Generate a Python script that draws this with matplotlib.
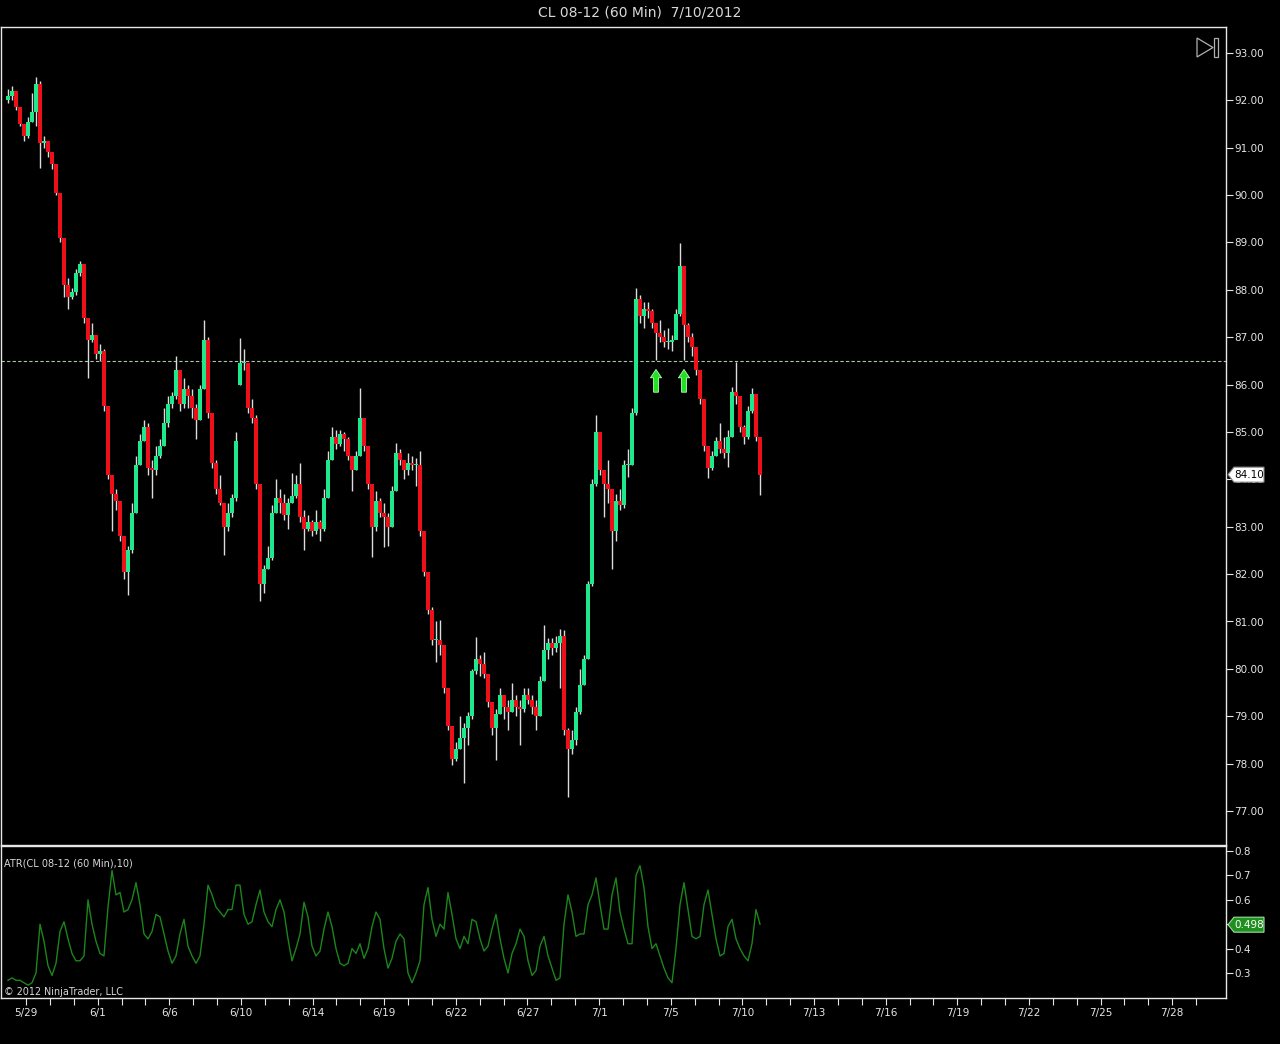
import matplotlib
matplotlib.use('Agg')
import matplotlib.pyplot as plt
import numpy as np
from matplotlib.patches import Polygon, Rectangle
from matplotlib.transforms import IdentityTransform, blended_transform_factory

# CL 08-12 price bars (one value every ~4 px)
first_open = 92.00
closes = [
    92.10, 92.20, 91.85, 91.50, 91.25, 91.55, 91.75, 92.35, 91.10, 91.15,
    90.90, 90.65, 90.05, 89.10, 88.10, 87.85, 87.95, 88.35, 88.55, 87.40,
    86.95, 87.05, 86.65, 86.70, 85.55, 84.10, 83.70, 83.55, 82.80, 82.05,
    82.50, 83.30, 84.30, 84.80, 85.10, 84.25, 84.20, 84.50, 84.70, 85.20,
    85.60, 85.75, 86.30, 85.60, 85.90, 85.75, 85.50, 85.25, 85.90, 86.95,
    85.40, 84.35, 83.80, 83.50, 83.00, 83.30, 83.60, 84.80, 86.45, 86.45,
    85.50, 85.30, 83.90, 81.80, 82.10, 82.35, 83.30, 83.60, 83.50, 83.25,
    83.50, 83.65, 83.90, 83.20, 82.95, 83.10, 82.90, 83.10, 82.95, 83.60,
    84.40, 84.90, 84.75, 84.95, 84.85, 84.50, 84.20, 84.50, 85.30, 84.70,
    83.90, 83.00, 83.55, 83.30, 83.20, 83.00, 83.75, 84.55, 84.40, 84.20,
    84.35, 84.30, 84.30, 82.90, 82.05, 81.25, 80.60, 80.60, 80.50, 79.60,
    78.80, 78.10, 78.30, 78.55, 78.75, 79.00, 79.95, 80.20, 80.10, 79.90,
    79.30, 78.75, 79.05, 79.45, 79.20, 79.10, 79.35, 79.20, 79.15, 79.45,
    79.35, 79.20, 79.00, 79.75, 80.40, 80.55, 80.45, 80.55, 80.70, 78.70,
    78.30, 78.50, 79.10, 79.65, 80.20, 81.80, 83.90, 85.00, 84.20, 83.90,
    83.80, 82.90, 83.55, 83.45, 84.30, 84.30, 85.40, 87.80, 87.45, 87.60,
    87.55, 87.30, 87.10, 87.00, 86.90, 86.90, 86.95, 87.50, 88.50, 87.25,
    87.00, 86.80, 86.30, 85.70, 84.70, 84.25, 84.50, 84.80, 84.65, 84.55,
    84.90, 85.85, 85.75, 85.10, 84.90, 85.45, 85.80, 84.90, 84.10,
]
highs = [
    92.25, 92.30, 92.20, 91.85, 91.50, 91.65, 92.15, 92.50, 92.40, 91.25,
    91.15, 90.90, 90.65, 90.05, 89.10, 88.25, 88.05, 88.45, 88.62, 88.55,
    87.40, 87.30, 87.05, 86.85, 86.75, 85.55, 84.10, 83.80, 83.55, 82.80,
    82.60, 83.50, 84.50, 84.95, 85.25, 85.20, 84.40, 84.70, 84.85, 85.50,
    85.75, 85.85, 86.60, 86.30, 86.15, 86.00, 85.90, 85.60, 86.00, 87.37,
    87.00, 85.40, 84.40, 84.10, 83.50, 83.50, 83.70, 85.00, 86.98, 86.75,
    86.45, 85.70, 85.35, 83.90, 82.20, 82.60, 83.45, 84.00, 83.80, 83.70,
    83.60, 84.13, 84.10, 84.35, 83.35, 83.25, 83.15, 83.35, 83.15, 83.80,
    84.60, 85.10, 85.05, 85.05, 85.00, 84.90, 84.45, 84.60, 85.93, 85.25,
    84.70, 83.90, 83.75, 83.60, 83.50, 83.30, 83.85, 84.77, 84.65, 84.40,
    84.55, 84.50, 84.45, 84.60, 82.90, 82.05, 81.30, 81.00, 81.03, 80.50,
    79.60, 78.80, 78.45, 79.00, 78.85, 79.10, 80.00, 80.67, 80.30, 80.35,
    79.90, 79.30, 79.15, 79.60, 79.45, 79.35, 79.70, 79.45, 79.35, 79.60,
    79.60, 79.45, 79.35, 79.85, 80.93, 80.65, 80.65, 80.70, 80.85, 80.82,
    78.75, 78.70, 79.20, 80.00, 80.30, 81.85, 84.00, 85.36, 85.00, 84.20,
    84.40, 83.80, 83.70, 83.80, 84.40, 84.65, 85.50, 88.04, 87.90, 87.75,
    87.75, 87.60, 87.30, 87.36, 87.15, 87.20, 87.05, 87.60, 88.99, 88.50,
    87.30, 87.10, 86.80, 86.30, 85.70, 84.70, 84.60, 84.90, 85.19, 84.90,
    85.05, 85.95, 86.48, 85.75, 85.15, 85.55, 85.93, 85.80, 84.90,
]
lows = [
    91.95, 92.00, 91.80, 91.45, 91.15, 91.20, 91.55, 91.45, 90.57, 91.00,
    90.80, 90.55, 90.00, 89.00, 87.85, 87.60, 87.80, 87.90, 88.30, 87.30,
    86.15, 86.90, 86.55, 86.50, 85.45, 84.00, 82.90, 83.35, 82.70, 81.90,
    81.55, 82.45, 83.30, 84.30, 84.80, 84.10, 83.60, 84.10, 84.45, 84.70,
    85.10, 85.50, 85.70, 85.45, 85.50, 85.50, 85.30, 84.85, 85.25, 85.90,
    85.30, 84.25, 83.70, 83.45, 82.40, 82.90, 83.20, 83.55, 86.00, 86.30,
    85.40, 85.20, 83.80, 81.43, 81.60, 82.10, 82.30, 83.30, 83.30, 83.15,
    82.95, 83.50, 83.60, 83.10, 82.50, 82.90, 82.80, 82.85, 82.70, 82.90,
    83.60, 84.40, 84.65, 84.70, 84.60, 84.40, 83.75, 84.20, 84.50, 84.60,
    83.80, 82.36, 82.90, 83.20, 82.57, 82.60, 83.00, 83.75, 84.30, 84.00,
    84.10, 84.20, 83.85, 82.80, 81.95, 81.15, 80.50, 80.15, 80.30, 79.50,
    78.70, 77.97, 78.05, 78.30, 77.60, 78.40, 78.95, 79.90, 79.85, 79.80,
    79.20, 78.60, 78.08, 79.05, 78.95, 78.70, 79.10, 79.00, 78.40, 79.10,
    79.25, 79.05, 78.70, 79.00, 79.75, 80.20, 80.30, 80.35, 79.60, 78.60,
    77.30, 78.20, 78.40, 79.05, 79.65, 80.20, 81.75, 83.85, 84.10, 83.20,
    83.50, 82.10, 82.70, 83.35, 83.40, 84.05, 84.30, 85.35, 87.30, 87.20,
    87.40, 87.20, 86.52, 86.90, 86.80, 86.75, 86.70, 87.05, 87.45, 86.52,
    86.90, 86.60, 86.20, 85.60, 84.60, 84.03, 84.20, 84.50, 84.55, 84.45,
    84.26, 84.90, 85.60, 85.00, 84.75, 84.85, 85.40, 84.80, 83.67,
]
# weekend gap (Sunday 6/10 session open)
gap_bar = 58
gap_open = 86.00

# ATR(10), same bars
atr = [
    0.27, 0.28, 0.27, 0.27, 0.26, 0.25, 0.26, 0.30, 0.50, 0.43,
    0.33, 0.29, 0.34, 0.47, 0.51, 0.44, 0.38, 0.35, 0.35, 0.37,
    0.60, 0.50, 0.43, 0.38, 0.37, 0.57, 0.72, 0.62, 0.63, 0.55,
    0.56, 0.60, 0.67, 0.58, 0.46, 0.44, 0.47, 0.54, 0.53, 0.46,
    0.39, 0.34, 0.37, 0.46, 0.52, 0.41, 0.37, 0.34, 0.37, 0.50,
    0.66, 0.62, 0.57, 0.55, 0.53, 0.56, 0.56, 0.66, 0.66, 0.54,
    0.50, 0.51, 0.58, 0.64, 0.55, 0.51, 0.49, 0.56, 0.60, 0.55,
    0.44, 0.35, 0.40, 0.46, 0.59, 0.53, 0.41, 0.37, 0.39, 0.48,
    0.55, 0.49, 0.40, 0.34, 0.33, 0.34, 0.40, 0.38, 0.42, 0.36,
    0.40, 0.49, 0.55, 0.52, 0.40, 0.32, 0.36, 0.43, 0.46, 0.44,
    0.30, 0.26, 0.30, 0.35, 0.58, 0.65, 0.52, 0.45, 0.50, 0.48,
    0.63, 0.54, 0.44, 0.40, 0.45, 0.42, 0.52, 0.51, 0.44, 0.39,
    0.41, 0.48, 0.54, 0.44, 0.36, 0.30, 0.38, 0.42, 0.48, 0.45,
    0.35, 0.29, 0.31, 0.41, 0.45, 0.37, 0.32, 0.27, 0.28, 0.50,
    0.62, 0.55, 0.45, 0.46, 0.46, 0.58, 0.62, 0.69, 0.58, 0.48,
    0.48, 0.62, 0.69, 0.55, 0.48, 0.42, 0.42, 0.70, 0.74, 0.65,
    0.49, 0.40, 0.42, 0.37, 0.32, 0.28, 0.26, 0.40, 0.58, 0.67,
    0.56, 0.45, 0.44, 0.45, 0.58, 0.64, 0.54, 0.44, 0.37, 0.38,
    0.49, 0.52, 0.44, 0.40, 0.37, 0.35, 0.42, 0.56, 0.50,
]

signal_bars = [162, 169]
ref_level = 86.50
last_price = 84.10
last_atr = 0.498
date_labels = ['5/29', '6/1', '6/6', '6/10', '6/14', '6/19', '6/22', '6/27', '7/1',
               '7/5', '7/10', '7/13', '7/16', '7/19', '7/22', '7/25', '7/28']

FG = '#e6e6e6'
W, H = 1280, 1044

opens = [first_open] + closes[:-1]
opens[gap_bar] = gap_open
opens = np.array(opens)
closes_a = np.array(closes)
x = np.arange(len(closes))

fig = plt.figure(figsize=(W / 100, H / 100), dpi=100, facecolor='black')
ax = fig.add_axes([1 / W, 1 - 845 / H, 1225 / W, (845 - 27) / H], facecolor='black')
ax2 = fig.add_axes([1 / W, 1 - 998 / H, 1225 / W, (998 - 846) / H], facecolor='black', sharex=ax)

# Candles
ax.vlines(x, lows, highs, color='#dcdcdc', lw=1.0, zorder=2)
up = closes_a >= opens
colors = np.where(up, '#1fe88c', '#ee1018')
bottom = np.minimum(opens, closes_a)
height = np.maximum(np.abs(closes_a - opens), 0.03)
ax.bar(x, height, bottom=bottom, width=0.9, color=colors, linewidth=0, zorder=3)

ax.axhline(ref_level, color='#a8c8a8', lw=0.8, ls=(0, (3, 2)), zorder=1)

for b in signal_bars:
    ax.annotate('', xy=(b, lows[b] - 0.2), xytext=(b, lows[b] - 0.68),
                arrowprops=dict(arrowstyle='simple,head_width=0.8,head_length=0.6,tail_width=0.35',
                                fc='#22e022', ec='#b8ffb8', lw=0.6, mutation_scale=10,
                                shrinkA=0, shrinkB=0))

ax.set_xlim(-1.75, 304.5)
ax.set_ylim(93 - (845 - 53) / 47.375, 93 + 26 / 47.375)
ax.yaxis.tick_right()
ax.set_yticks(np.arange(77, 94))
ax.set_yticklabels([f'{v:.2f}' for v in range(77, 94)])
ax.tick_params(axis='y', direction='out', length=5, width=0.8, color=FG,
               labelcolor=FG, labelsize=7.5, pad=1)
ax.tick_params(axis='x', bottom=False, labelbottom=False)

# ATR panel
ax2.plot(x, atr, color='#1c861c', lw=1.0)
ax2.set_ylim(0.8 - 147 / 244, 0.8 + 5 / 244)
ax2.yaxis.tick_right()
atr_ticks = [0.3, 0.4, 0.5, 0.6, 0.7, 0.8]
ax2.set_yticks(atr_ticks)
# the 0.5 label sits under the last-value tag
ax2.set_yticklabels(['' if v == 0.5 else f'{v:.1f}' for v in atr_ticks])
ax2.tick_params(axis='y', direction='out', length=5, width=0.8, color=FG,
                labelcolor=FG, labelsize=7.5, pad=1)

# Date axis: one tick per session, label every third
bars_per_day = 5.97
first_day = 4.5
day_ticks = [first_day + bars_per_day * k for k in range(50)]
ax2.set_xticks(day_ticks[::3])
ax2.set_xticklabels(date_labels)
ax2.set_xticks(day_ticks, minor=True)
ax2.tick_params(axis='x', which='both', direction='out', length=5, width=0.8,
                color=FG, labelcolor=FG, labelsize=7.5, pad=2)

for a in (ax, ax2):
    for s in a.spines.values():
        s.set_color(FG)
        s.set_linewidth(1.0)

fig.text(0.5, 1 - 13 / H, 'CL 08-12 (60 Min)  7/10/2012', ha='center', va='center',
         color='#d8d8d8', fontsize=10)
fig.text(4 / W, 1 - 864 / H, 'ATR(CL 08-12 (60 Min),10)', ha='left', va='center',
         color='#d8d8d8', fontsize=7.0)
fig.text(4 / W, 1 - 992 / H, '\u00a9 2012 NinjaTrader, LLC', ha='left', va='center',
         color='#d8d8d8', fontsize=6.9)


def value_tag(axis, value, label, face, edge, color):
    trans = blended_transform_factory(axis.transAxes, axis.transData)
    x0, y0 = trans.transform((1.0, value))
    verts = [(x0 + 2, y0), (x0 + 8, y0 + 7.5), (x0 + 38, y0 + 7.5),
             (x0 + 38, y0 - 7.5), (x0 + 8, y0 - 7.5)]
    fig.patches.append(Polygon(verts, closed=True, fc=face, ec=edge, lw=0.8,
                               transform=IdentityTransform(), figure=fig, zorder=5))
    fig.text(x0 + 23, y0, label, transform=IdentityTransform(), ha='center', va='center',
             color=color, fontsize=7.5, zorder=6)


value_tag(ax, last_price, f'{last_price:.2f}', 'white', '#888888', 'black')
value_tag(ax2, last_atr, f'{last_atr:.3f}', '#1f8f1f', '#9fe09f', 'white')

# "go to end" icon at top right
tri = [(1197, H - 38), (1213, H - 47.5), (1197, H - 57)]
fig.patches.append(Polygon(tri, closed=True, fill=False, ec='#b0b0b0', lw=0.9,
                           transform=IdentityTransform(), figure=fig))
fig.patches.append(Rectangle((1214, H - 57), 4, 19, fill=False, ec='#b0b0b0', lw=0.9,
                             transform=IdentityTransform(), figure=fig))

fig.savefig('out.png', dpi=100, facecolor='black')
